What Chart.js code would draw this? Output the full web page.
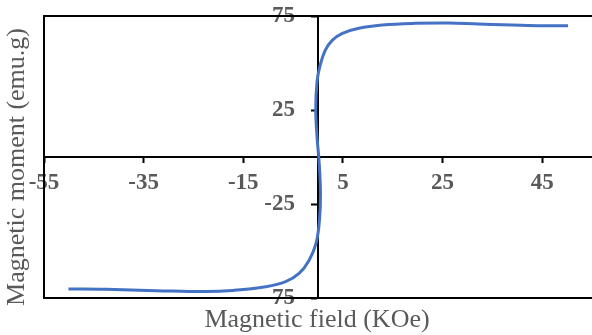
<!DOCTYPE html>
<html>
<head>
<meta charset="utf-8">
<script src="https://cdn.jsdelivr.net/npm/chart.js@4"></script>
<style>
  html, body { margin: 0; padding: 0; background: #fff; overflow: hidden; }
  #wrap { width: 592px; height: 335px; }
</style>
</head>
<body>
<div id="wrap"><canvas id="mChart"></canvas></div>
<script>
// field (KOe) and moment (emu/g)
const fieldKOe = [-50.1, -42.5, -32.5, -22.5, -17.1, -10.5, -6.5, -3.8, -1.8, -0.4, 0.3, 0.5, 0.2, -0.15, -0.45, -0.2, 0.4, 1.5, 2.9, 4.9, 8.2, 12.9, 19.5, 26.2, 32.2, 42.2, 50.2];
const moment = [-70.2, -70.4, -71.1, -71.6, -71.0, -69.0, -66.3, -61.9, -55.0, -46.0, -33.5, -19.3, -1.6, 9.0, 25.0, 40.0, 48.5, 57.0, 62.2, 65.8, 68.5, 70.2, 71.1, 71.3, 70.7, 69.9, 69.8];
const xTicks = [-55, -35, -15, 5, 25, 45];
const yTicks = [-75, -25, 25, 75];

const grey = "#595959";
const tickFont = { family: "Liberation Serif", size: 23, weight: "bold" };

const points = fieldKOe.map((x, i) => ({ x: x, y: moment[i] }));

// box round the plot + the two axis titles
const frame = {
  id: "frame",
  beforeDatasetsDraw(chart) {
    const { ctx, chartArea: a } = chart;
    ctx.save();
    ctx.strokeStyle = "#000";
    ctx.lineWidth = 2;
    ctx.beginPath();
    ctx.moveTo(a.right + 5, a.top);
    ctx.lineTo(a.left, a.top);
    ctx.lineTo(a.left, a.bottom);
    ctx.lineTo(a.right + 5, a.bottom);
    ctx.stroke();
    ctx.restore();
  },
  afterDraw(chart) {
    const { ctx } = chart;
    ctx.save();
    ctx.fillStyle = grey;
    ctx.font = "26px 'Liberation Serif'";
    ctx.textAlign = "center";
    ctx.textBaseline = "middle";
    ctx.fillText("Magnetic field (KOe)", 317, 320);
    ctx.translate(17, 167);
    ctx.rotate(-Math.PI / 2);
    ctx.fillText("Magnetic moment (emu.g)", 0, 0);
    ctx.restore();
  }
};

new Chart(document.getElementById("mChart").getContext("2d"), {
  type: "scatter",
  data: {
    datasets: [{
      data: points,
      showLine: true,
      borderColor: "#4472C4",
      borderWidth: 3,
      pointRadius: 0,
      tension: 0.4
    }]
  },
  options: {
    responsive: true,
    maintainAspectRatio: false,
    animation: false,
    layout: { padding: { left: 44, top: 16, right: 0, bottom: 37 } },
    plugins: { legend: { display: false }, tooltip: { enabled: false } },
    scales: {
      x: {
        type: "linear",
        position: { y: 0 },
        min: -55,
        max: 55,
        afterBuildTicks: s => { s.ticks = xTicks.map(v => ({ value: v })); },
        afterFit: s => { s.height = 0; s.paddingLeft = 0; s.paddingRight = 0; },
        border: { color: "#000", width: 2 },
        grid: { drawOnChartArea: false, tickLength: 5, tickColor: "#000", tickWidth: 2 },
        ticks: { color: grey, font: tickFont, padding: 7, maxRotation: 0, autoSkip: false }
      },
      y: {
        type: "linear",
        position: { x: 0 },
        min: -75,
        max: 75,
        afterBuildTicks: s => { s.ticks = yTicks.map(v => ({ value: v })); },
        afterFit: s => { s.width = 0; s.paddingTop = 0; s.paddingBottom = 0; },
        border: { color: "#000", width: 2 },
        grid: { drawOnChartArea: false, tickLength: 6, tickColor: "#000", tickWidth: 2 },
        // labels sit right against the axis here, so pad them with en spaces
        ticks: { color: grey, font: tickFont, autoSkip: false, callback: v => v + "\u2002\u2002" }
      }
    }
  },
  plugins: [frame]
});
</script>
</body>
</html>
